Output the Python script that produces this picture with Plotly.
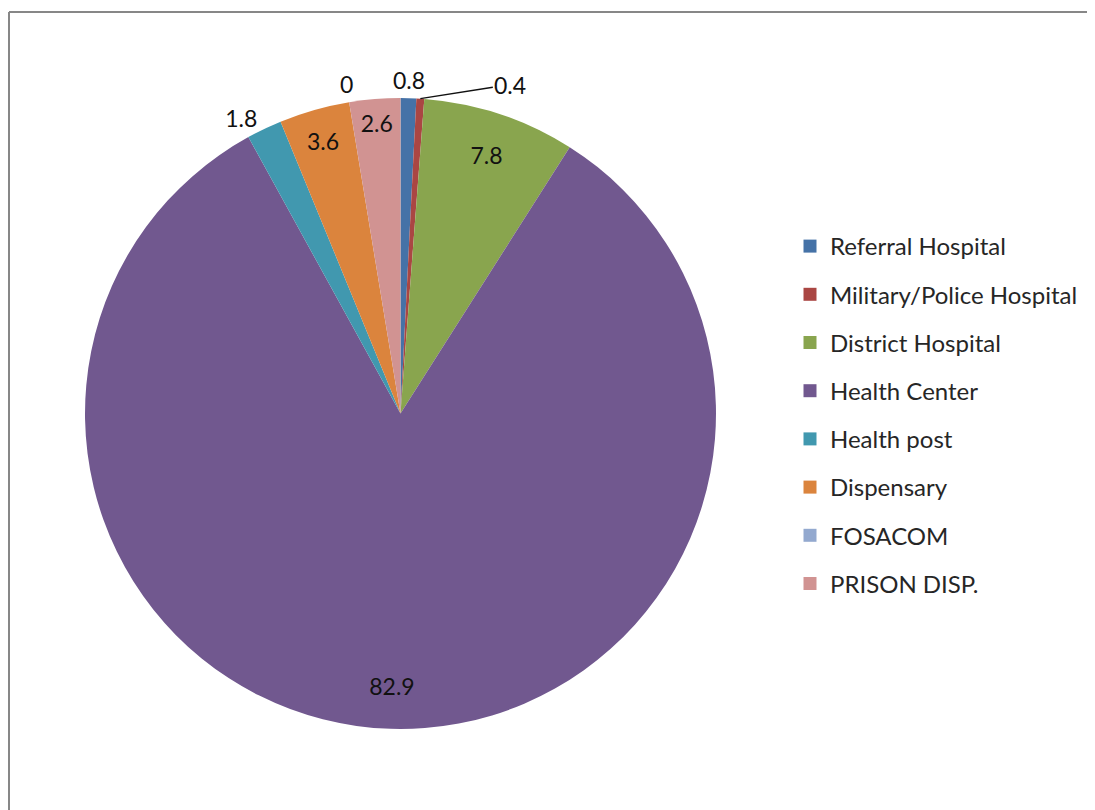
import math
import plotly.graph_objects as go

labels = ["Referral Hospital", "Military/Police Hospital", "District Hospital",
          "Health Center", "Health post", "Dispensary", "FOSACOM", "PRISON DISP."]
values = [0.8, 0.4, 7.8, 82.9, 1.8, 3.6, 0, 2.6]
colors = ["#4572A7", "#AA4643", "#89A54E", "#71588F", "#4198AF", "#DB843D", "#93A9CF", "#D19392"]

# how each value label is drawn
main_pos = ["none", "none", "none", "none", "outside", "inside", "none", "inside"]
ring_pos = ["none", "none", "inside", "inside", "none", "none", "none", "none"]
# labels placed as annotations: index -> leader line offset (None = no leader)
callouts = {0: None, 6: None, 1: (90, -14)}

W, H = 1095, 810
FONT = "Lato, Open Sans, sans-serif"
LBL = dict(family=FONT, size=23, color="#111111")

# pie placement (pixels inside the figure)
PX0, PX1, PY0, PY1 = 77, 708, 89, 722
dom = dict(x=[PX0 / W, PX1 / W], y=[(H - PY1) / H, (H - PY0) / H])
cx, cy = (PX0 + PX1) / 2, (PY0 + PY1) / 2
R = min(PX1 - PX0, PY1 - PY0) / 2

fig = go.Figure()
fig.add_trace(go.Pie(
    labels=labels, values=values, sort=False, direction="clockwise", rotation=0,
    marker=dict(colors=colors, line=dict(width=0)),
    texttemplate="%{value}", textposition=main_pos, insidetextorientation="horizontal",
    textfont=LBL, showlegend=False, hoverinfo="label+value", domain=dom,
))
# transparent ring used only to place the labels of the large slices further out
fig.add_trace(go.Pie(
    labels=labels, values=values, sort=False, direction="clockwise", rotation=0, hole=0.73,
    marker=dict(colors=["rgba(0,0,0,0)"] * len(values), line=dict(width=0)),
    texttemplate="%{value}", textposition=ring_pos, insidetextorientation="horizontal",
    textfont=LBL, showlegend=False, hoverinfo="skip", domain=dom,
))

# annotations for the crowded small slices at the top
total = sum(values)
cum = 0
mids = []
for v in values:
    mids.append((cum + v / 2) / total * 2 * math.pi)
    cum += v

annotations = []
for i, lead in callouts.items():
    th = mids[i]
    if lead is None:
        r = R + 18
        px, py = cx + r * math.sin(th), cy - r * math.cos(th)
        annotations.append(dict(x=px / W, y=(H - py) / H, xref="paper", yref="paper",
                                xanchor="center", yanchor="middle",
                                text=str(values[i]), showarrow=False, font=LBL))
    else:
        px, py = cx + R * math.sin(th), cy - R * math.cos(th)
        annotations.append(dict(x=px / W, y=(H - py) / H, xref="paper", yref="paper",
                                text=str(values[i]), showarrow=True, arrowhead=0,
                                arrowwidth=1.5, arrowcolor="#111111",
                                ax=lead[0], ay=lead[1], font=LBL))

# legend entries
for lab, col in zip(labels, colors):
    fig.add_trace(go.Scatter(
        x=[None], y=[None], mode="markers", name=lab, legendgroup=lab,
        marker=dict(symbol="square", size=13, color=col),
        showlegend=True,
    ))

fig.update_layout(
    width=W, height=H,
    margin=dict(l=0, r=0, t=0, b=0),
    paper_bgcolor="white", plot_bgcolor="white",
    xaxis=dict(visible=False), yaxis=dict(visible=False),
    legend=dict(
        x=782 / W, y=(H - 216) / H, xanchor="left", yanchor="top",
        traceorder="grouped", tracegroupgap=14,
        font=dict(family=FONT, size=24, color="#262626"),
        itemwidth=30,
    ),
    annotations=annotations,
    shapes=[
        dict(type="line", xref="paper", yref="paper", x0=1 / W, x1=1.02, y0=(H - 4) / H, y1=(H - 4) / H,
             line=dict(color="#878787", width=2)),
        dict(type="line", xref="paper", yref="paper", x0=1 / W, x1=1 / W, y0=-0.02, y1=(H - 4) / H,
             line=dict(color="#878787", width=2)),
    ],
)

fig.write_html("out.html")
